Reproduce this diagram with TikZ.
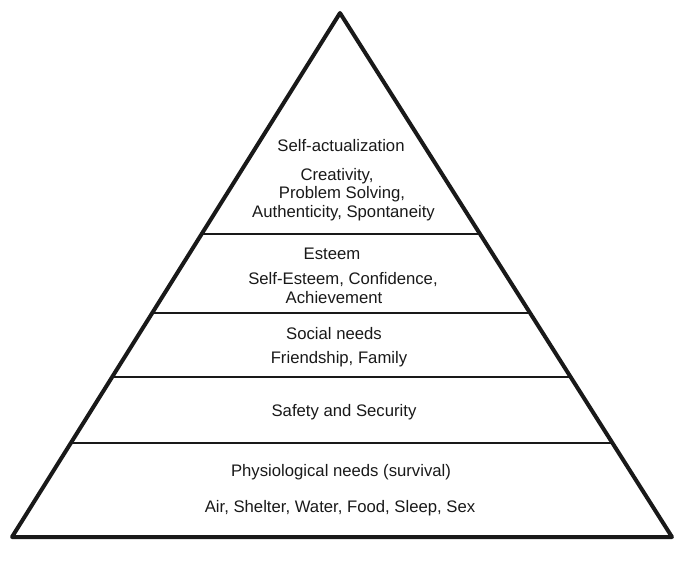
\documentclass[tikz,border=0pt]{standalone}
\usepackage{fontspec}
\setmainfont{Liberation Sans}
\usetikzlibrary{calc}
\begin{document}
\begin{tikzpicture}[x=1pt,y=-1pt,
  side/.style={line width=4pt,line join=round,line cap=round,draw=black!90},
  tier/.style={line width=2.8pt,draw=black!90},
  lbl/.style={anchor=base,inner sep=0pt,font=\fontsize{16.7}{20}\selectfont,text=black!90}]
\useasboundingbox (0,0) rectangle (683,567);
\coordinate (A) at (340,13);
\coordinate (L) at (12,537);
\coordinate (R) at (672,537);
% tier lines (fractions along side from base to apex)
\foreach \y/\n in {234/a,313/b,377/c,443/d}{
  \pgfmathsetmacro{\t}{(537-\y)/524}
  \coordinate (l\n) at ($(L)!\t!(A)$);
  \coordinate (r\n) at ($(R)!\t!(A)$);
}
\draw[tier] (la) -- (ra);
\draw[tier] (lb) -- (rb);
\draw[tier] (lc) -- (rc);
\draw[tier] (ld) -- (rd);
\draw[side] (A) -- (L) -- (R) -- cycle;
\node[lbl] (t1) at (341,152) {Self-actualization};
\node[lbl] (t2) at (337,180) {Creativity,};
\node[lbl] (t3) at (342,199) {Problem Solving,};
\node[lbl] (t4) at (343.5,218) {Authenticity, Spontaneity};
\node[lbl] (t5) at (332,259) {Esteem};
\node[lbl] (t6) at (343,284) {Self-Esteem, Confidence,};
\node[lbl] (t7) at (334,303) {Achievement};
\node[lbl] (t8) at (334,339) {Social needs};
\node[lbl] (t9) at (339,363) {Friendship, Family};
\node[lbl] (t10) at (344,416) {Safety and Security};
\node[lbl] (t11) at (341,476) {Physiological needs (survival)};
\node[lbl] (t12) at (340,512) {Air, Shelter, Water, Food, Sleep, Sex};
\end{tikzpicture}
\end{document}
